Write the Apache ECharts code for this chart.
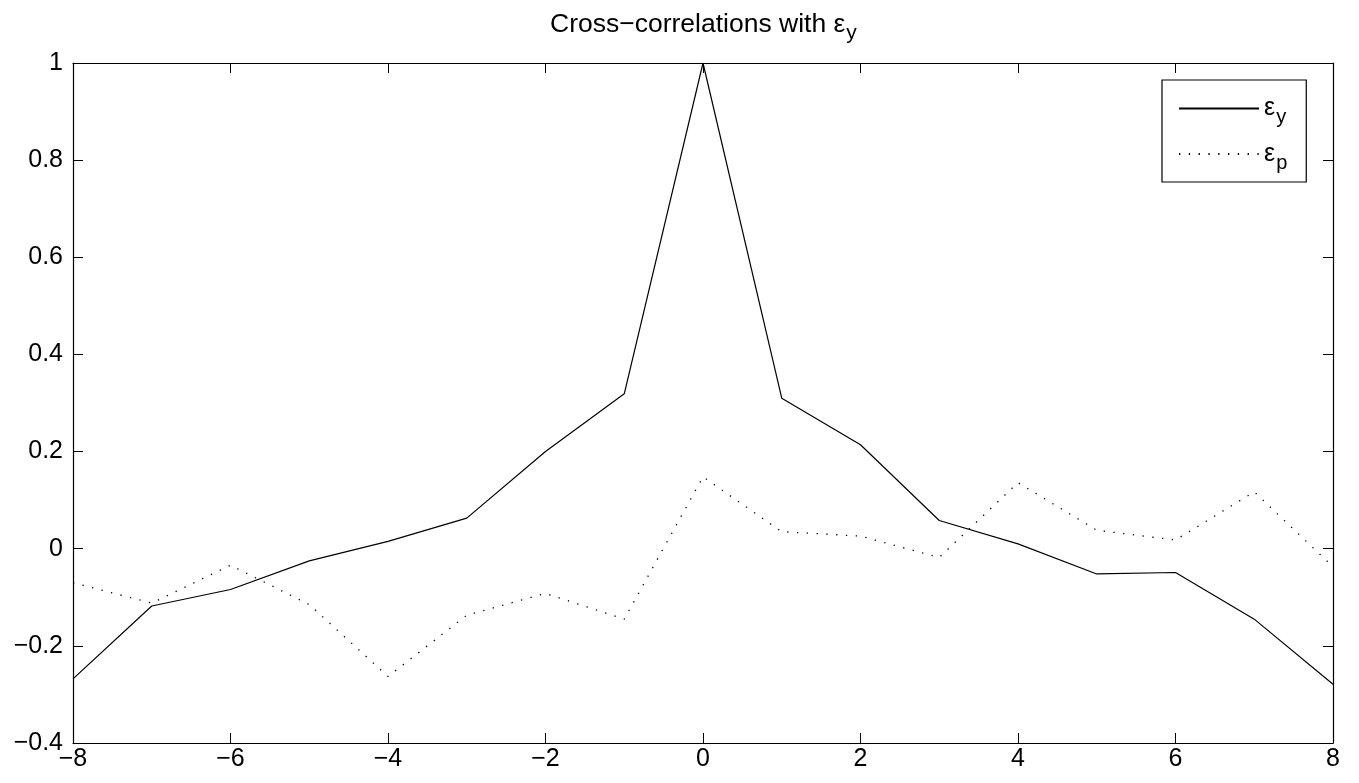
<!DOCTYPE html>
<html>
<head>
<meta charset="utf-8">
<script src="https://cdn.jsdelivr.net/npm/echarts@6/dist/echarts.min.js"></script>
<style>
  html, body { margin: 0; padding: 0; background: #fff; }
  #chart { width: 1359px; height: 783px; }
</style>
</head>
<body>
<div id="chart"></div>
<script>
// lags -8..8
const lags = [-8, -7, -6, -5, -4, -3, -2, -1, 0, 1, 2, 3, 4, 5, 6, 7, 8];
const epsY = [-0.268, -0.118, -0.084, -0.025, 0.015, 0.063, 0.2, 0.319, 1.0, 0.31, 0.214, 0.058, 0.01, -0.052, -0.049, -0.145, -0.279];
const epsP = [-0.07, -0.112, -0.034, -0.115, -0.263, -0.137, -0.092, -0.145, 0.148, 0.035, 0.026, -0.018, 0.136, 0.038, 0.018, 0.117, -0.037];
const xTicks = [-8, -6, -4, -2, 0, 2, 4, 6, 8];
const yTicks = [-0.4, -0.2, 0, 0.2, 0.4, 0.6, 0.8, 1];

const chart = echarts.init(document.getElementById('chart'));
const font = '"Liberation Sans", Arial, Helvetica, sans-serif';

// MATLAB style minus sign
function fmt(v) {
  return String(+v.toFixed(1)).replace('-', '\u2212');
}

const sub = {
  a: { fontSize: 25, fontFamily: font, color: '#000', fontWeight: 'normal' },
  s: { fontSize: 20, fontFamily: font, color: '#000', fontWeight: 'normal', padding: [18, 0, 0, 1] }
};
const subTitle = {
  a: { fontSize: 26.5, fontFamily: font, color: '#000', fontWeight: 'normal' },
  s: { fontSize: 21, fontFamily: font, color: '#000', fontWeight: 'normal', padding: [18, 0, 0, 1] }
};

const option = {
  animation: false,
  backgroundColor: '#fff',
  textStyle: { fontFamily: font },
  title: {
    text: '{a|Cross\u2212correlations with \u03b5}{s|y}',
    left: 545,
    top: 0,
    textStyle: { fontWeight: 'normal', rich: subTitle }
  },
  legend: {
    orient: 'vertical',
    left: 1162,
    top: 80,
    padding: [16, 19, 9, 16],
    itemWidth: 80,
    itemHeight: 14,
    itemGap: 14,
    borderColor: '#000',
    borderWidth: 1.2,
    data: ['ey', 'ep'],
    itemStyle: { color: 'rgba(0,0,0,0)', borderWidth: 0 },
    formatter: function (name) {
      return '{a|\u03b5}{s|' + (name === 'ey' ? 'y' : 'p') + '}';
    },
    textStyle: { rich: sub }
  },
  grid: { left: 73, right: 26, top: 63, bottom: 40, containLabel: false },
  xAxis: [
    {
      type: 'value', min: -8, max: 8, interval: 2,
      axisLine: { onZero: false, lineStyle: { color: '#000', width: 1.2 } },
      axisTick: { inside: true, length: 10, lineStyle: { color: '#000' } },
      axisLabel: { color: '#000', fontSize: 25, margin: 4, formatter: fmt,
        customValues: xTicks },
      splitLine: { show: false }
    },
    {
      type: 'value', min: -8, max: 8, interval: 2, position: 'top',
      axisLine: { onZero: false, lineStyle: { color: '#000', width: 1.2 } },
      axisTick: { inside: true, length: 10, lineStyle: { color: '#000' } },
      axisLabel: { show: false },
      splitLine: { show: false }
    }
  ],
  yAxis: [
    {
      type: 'value', min: -0.4, max: 1, interval: 0.2,
      axisLine: { show: true, onZero: false, lineStyle: { color: '#000', width: 1.2 } },
      axisTick: { show: true, inside: true, length: 10, lineStyle: { color: '#000' } },
      axisLabel: { color: '#000', fontSize: 25, margin: 10, formatter: fmt },
      splitLine: { show: false }
    },
    {
      type: 'value', min: -0.4, max: 1, interval: 0.2, position: 'right',
      axisLine: { show: true, onZero: false, lineStyle: { color: '#000', width: 1.2 } },
      axisTick: { show: true, inside: true, length: 10, lineStyle: { color: '#000' } },
      axisLabel: { show: false },
      splitLine: { show: false }
    }
  ],
  series: [
    {
      name: 'ey',
      type: 'line',
      data: lags.map((x, i) => [x, epsY[i]]),
      symbol: 'none',
      lineStyle: { color: '#000', width: 1.2, type: 'solid' },
      itemStyle: { color: '#000' }
    },
    {
      name: 'ep',
      type: 'line',
      data: lags.map((x, i) => [x, epsP[i]]),
      symbol: 'none',
      lineStyle: { color: '#000', width: 1.3, type: [1.3, 8.5] },
      itemStyle: { color: '#000' }
    }
  ]
};

chart.setOption(option);
</script>
</body>
</html>
